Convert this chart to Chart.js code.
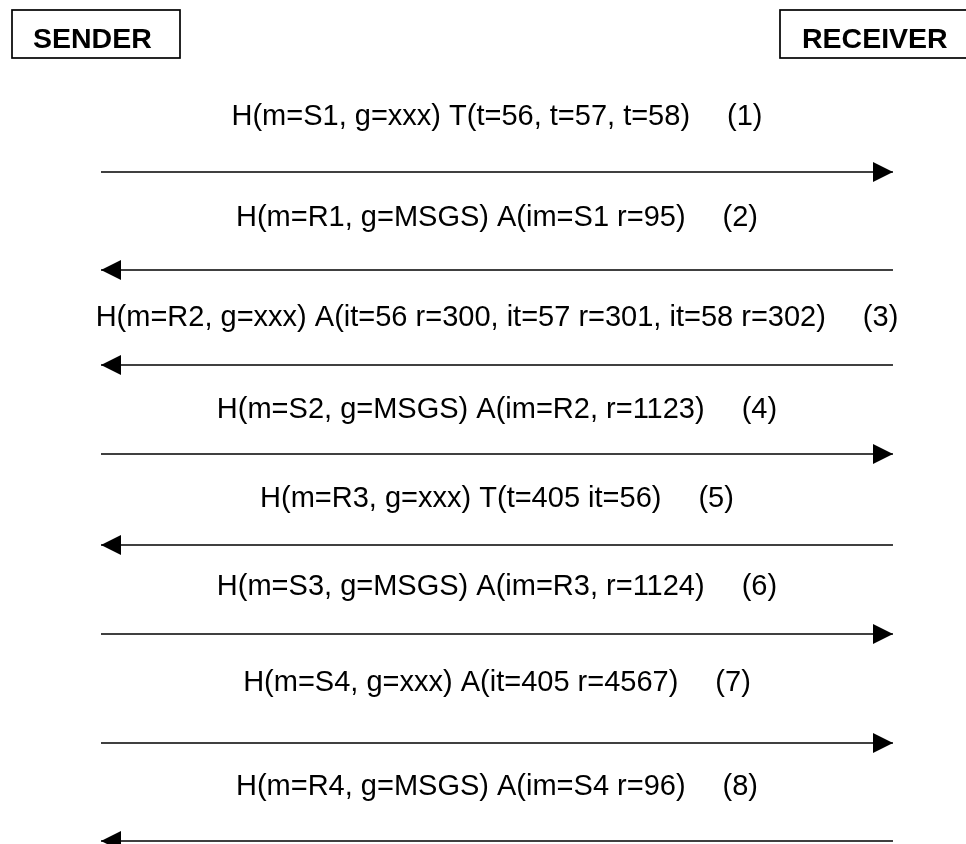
<!DOCTYPE html>
<html>
<head>
<meta charset="utf-8">
<title>Sender / Receiver</title>
<script src="https://cdn.jsdelivr.net/npm/chart.js@4.4.1/dist/chart.umd.min.js"></script>
<style>
    body { margin: 0; background: #fff; }
    #seq { display: block; }
</style>
</head>
<body>
<canvas id="seq" width="966" height="844"></canvas>
<script>
// participants (x value 0 = sender, 1 = receiver)
var participants = ['SENDER', 'RECEIVER'];

// messages, top to bottom
var msgText = [
    'H(m=S1, g=xxx) T(t=56, t=57, t=58)',
    'H(m=R1, g=MSGS) A(im=S1 r=95)',
    'H(m=R2, g=xxx) A(it=56 r=300, it=57 r=301, it=58 r=302)',
    'H(m=S2, g=MSGS) A(im=R2, r=1123)',
    'H(m=R3, g=xxx) T(t=405 it=56)',
    'H(m=S3, g=MSGS) A(im=R3, r=1124)',
    'H(m=S4, g=xxx) A(it=405 r=4567)',
    'H(m=R4, g=MSGS) A(im=S4 r=96)'
];
var msgLabel = ['(1)', '(2)', '(3)', '(4)', '(5)', '(6)', '(7)', '(8)'];
var msgFrom = [0, 1, 1, 0, 1, 0, 0, 1];
var msgTo = [1, 0, 0, 1, 0, 1, 1, 0];
// time (vertical position) of each arrow and of its caption
var arrowTime = [172, 270, 365, 454, 545, 634, 743, 841];
var textTime = [125, 226, 326, 418, 507, 595, 691, 795];

var FONT = '"Liberation Sans", Arial, sans-serif';

// arrow heads as small canvases, tip at the centre of the canvas
function makeHead(pointRight) {
    var c = document.createElement('canvas');
    c.width = 40;
    c.height = 22;
    var g = c.getContext('2d');
    g.fillStyle = '#000';
    g.beginPath();
    if (pointRight) {
        g.moveTo(0, 1); g.lineTo(20, 11); g.lineTo(0, 21);
    } else {
        g.moveTo(40, 1); g.lineTo(20, 11); g.lineTo(40, 21);
    }
    g.closePath();
    g.fill();
    return c;
}
var headRight = makeHead(true);
var headLeft = makeHead(false);

var datasets = [];
for (var i = 0; i < msgText.length; i++) {
    datasets.push({
        label: msgLabel[i],
        data: [{x: msgFrom[i], y: arrowTime[i]}, {x: msgTo[i], y: arrowTime[i]}],
        borderColor: '#000',
        borderWidth: 1.6,
        pointStyle: [false, msgTo[i] > msgFrom[i] ? headRight : headLeft],
        pointRadius: [0, 10],
        clip: false,
        fill: false
    });
}

// boxes and captions
var seqText = {
    id: 'seqText',
    afterDraw: function(chart) {
        var ctx = chart.ctx;
        var xs = chart.scales.x;
        var ys = chart.scales.y;
        ctx.save();

        // participant boxes
        ctx.strokeStyle = '#000';
        ctx.lineWidth = 1.7;
        ctx.strokeRect(12, 10, 168, 48);
        ctx.strokeRect(780, 10, 190, 48);
        ctx.fillStyle = '#000';
        ctx.font = 'bold 28.5px ' + FONT;
        ctx.textBaseline = 'alphabetic';
        ctx.textAlign = 'left';
        ctx.fillText(participants[0], 33, 48);
        ctx.fillText(participants[1], 802, 48);

        // message captions, centred between the two lifelines
        ctx.font = '29px ' + FONT;
        var cx = xs.getPixelForValue(0.5);
        var gap = 37;
        for (var i = 0; i < msgText.length; i++) {
            var w1 = ctx.measureText(msgText[i]).width;
            var w2 = ctx.measureText(msgLabel[i]).width;
            var left = cx - (w1 + gap + w2) / 2;
            var y = ys.getPixelForValue(textTime[i]);
            ctx.fillText(msgText[i], left, y);
            ctx.fillText(msgLabel[i], left + w1 + gap, y);
        }
        ctx.restore();
    }
};

var ctx = document.getElementById('seq').getContext('2d');
var seqChart = new Chart(ctx, {
    type: 'line',
    data: { datasets: datasets },
    options: {
        responsive: false,
        animation: false,
        events: [],
        layout: { padding: 0, autoPadding: false },
        plugins: {
            legend: { display: false },
            tooltip: { enabled: false }
        },
        scales: {
            x: { type: 'linear', display: false, min: -0.1275, max: 1.0922 },
            y: { type: 'linear', display: false, min: 0, max: 844, reverse: true }
        }
    },
    plugins: [seqText]
});
</script>
</body>
</html>
